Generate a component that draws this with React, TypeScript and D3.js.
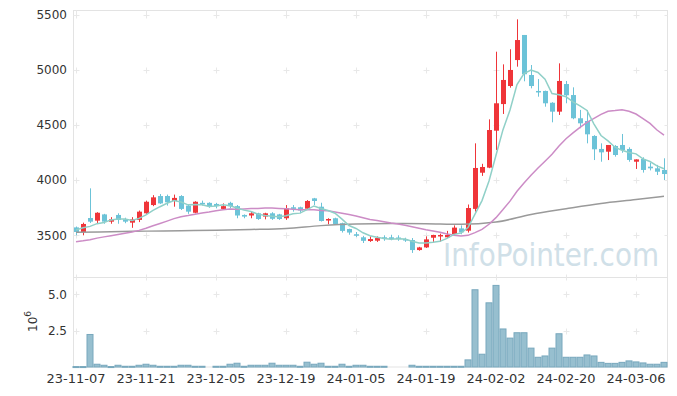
import * as d3 from "d3";

// trading sessions shown on the chart
const dates = [
  "23-11-07", "23-11-08", "23-11-09", "23-11-10", "23-11-13", "23-11-14", "23-11-15", "23-11-16", "23-11-17", "23-11-20",
  "23-11-21", "23-11-22", "23-11-23", "23-11-24", "23-11-27", "23-11-28", "23-11-29", "23-11-30", "23-12-01", "23-12-04",
  "23-12-05", "23-12-06", "23-12-07", "23-12-08", "23-12-11", "23-12-12", "23-12-13", "23-12-14", "23-12-15", "23-12-18",
  "23-12-19", "23-12-20", "23-12-21", "23-12-22", "23-12-26", "23-12-27", "23-12-28", "24-01-02", "24-01-03", "24-01-04",
  "24-01-05", "24-01-08", "24-01-09", "24-01-10", "24-01-11", "24-01-12", "24-01-15", "24-01-16", "24-01-17", "24-01-18",
  "24-01-19", "24-01-22", "24-01-23", "24-01-24", "24-01-25", "24-01-26", "24-01-29", "24-01-30", "24-01-31", "24-02-01",
  "24-02-02", "24-02-05", "24-02-06", "24-02-07", "24-02-08", "24-02-13", "24-02-14", "24-02-15", "24-02-16", "24-02-19",
  "24-02-20", "24-02-21", "24-02-22", "24-02-23", "24-02-26", "24-02-27", "24-02-28", "24-02-29", "24-03-04", "24-03-05",
  "24-03-06", "24-03-07", "24-03-08", "24-03-11", "24-03-12",
];

const opens = [
  3572, 3530, 3657, 3633, 3690, 3624, 3685, 3645, 3615, 3640,
  3700, 3775, 3857, 3857, 3812, 3857, 3770, 3705, 3795, 3795,
  3785, 3740, 3795, 3765, 3685, 3680, 3700, 3670, 3700, 3690,
  3655, 3755, 3755, 3742, 3836, 3760, 3635, 3655, 3610, 3557,
  3510, 3482, 3448, 3451, 3482, 3482, 3480, 3466, 3457, 3366,
  3390, 3478, 3495, 3482, 3512, 3563, 3542, 3740, 4069, 4115,
  4451, 4693, 4857, 5093, 5321, 4957, 4812, 4812, 4705, 4624,
  4875, 4775, 4564, 4539, 4403, 4285, 4260, 4312, 4321, 4285,
  4169, 4194, 4124, 4109, 4094,
];
const highs = [
  3580, 3615, 3927, 3710, 3695, 3665, 3700, 3660, 3665, 3725,
  3815, 3865, 3875, 3870, 3870, 3865, 3775, 3810, 3815, 3800,
  3795, 3790, 3805, 3775, 3690, 3715, 3705, 3705, 3710, 3695,
  3775, 3775, 3760, 3820, 3840, 3796, 3655, 3660, 3615, 3560,
  3530, 3495, 3490, 3490, 3500, 3505, 3500, 3478, 3475, 3395,
  3490, 3505, 3515, 3540, 3590, 3590, 3780, 4336, 4150, 4554,
  5169, 5054, 5191, 5463, 5321, 5048, 4920, 4815, 4710, 5063,
  4903, 4845, 4640, 4639, 4410, 4336, 4321, 4320, 4421, 4300,
  4190, 4209, 4160, 4140, 4200,
];
const lows = [
  3500, 3500, 3612, 3612, 3605, 3605, 3605, 3610, 3568, 3620,
  3695, 3765, 3785, 3770, 3760, 3730, 3695, 3700, 3770, 3750,
  3745, 3735, 3745, 3655, 3655, 3655, 3640, 3645, 3640, 3640,
  3640, 3715, 3700, 3735, 3775, 3625, 3600, 3598, 3525, 3505,
  3485, 3430, 3440, 3440, 3450, 3455, 3450, 3440, 3340, 3360,
  3385, 3433, 3440, 3475, 3500, 3510, 3525, 3715, 4040, 4110,
  4275, 4603, 4842, 5033, 4900, 4836, 4760, 4669, 4527, 4594,
  4700, 4555, 4473, 4336, 4184, 4169, 4184, 4215, 4250, 4169,
  4103, 4070, 4090, 4048, 4003,
];
const closes = [
  3530, 3603, 3624, 3705, 3624, 3645, 3640, 3624, 3645, 3715,
  3805, 3845, 3790, 3800, 3840, 3740, 3715, 3805, 3785, 3765,
  3765, 3765, 3765, 3680, 3670, 3700, 3648, 3700, 3650, 3648,
  3745, 3740, 3725, 3812, 3812, 3630, 3648, 3603, 3540, 3525,
  3496, 3450, 3466, 3475, 3466, 3466, 3468, 3460, 3366, 3390,
  3463, 3503, 3503, 3503, 3570, 3527, 3748, 4112, 4121, 4457,
  4700, 4912, 5003, 5275, 4964, 4857, 4800, 4700, 4624, 4903,
  4773, 4564, 4518, 4418, 4282, 4254, 4321, 4230, 4275, 4185,
  4190, 4094, 4109, 4078, 4057,
];
// volume in millions of shares
const volumes = [
  0.03, 0.03, 2.24, 0.19, 0.12, 0.03, 0.12, 0.05, 0.05, 0.12,
  0.19, 0.12, 0.05, 0.05, 0.05, 0.12, 0.12, 0.05, 0.05, 0,
  0.05, 0.05, 0.19, 0.26, 0.05, 0.12, 0.12, 0.12, 0.26, 0.12,
  0.12, 0.12, 0.05, 0.33, 0.19, 0.26, 0.05, 0.05, 0.19, 0.05,
  0.12, 0.12, 0.05, 0.05, 0.05, 0, 0, 0, 0.12, 0.05,
  0.05, 0.05, 0.05, 0.05, 0.05, 0.05, 0.49, 5.32, 0.88, 4.42,
  5.62, 2.62, 1.99, 2.36, 2.36, 1.3, 0.67, 0.76, 1.3, 2.29,
  0.67, 0.67, 0.67, 0.83, 0.76, 0.32, 0.25, 0.25, 0.32, 0.42,
  0.35, 0.28, 0.19, 0.19, 0.32,
];

// closes of the 19 sessions before 23-11-07 (for the moving averages)
const priorCloses = [
  3440, 3430, 3410, 3400, 3420, 3415, 3405, 3425, 3420, 3425,
  3390, 3380, 3370, 3385, 3385, 3500, 3560, 3580, 3568,
];
// long moving average, read at selected sessions
const longMaIdx = [0, 5, 10, 15, 20, 25, 30, 35, 40, 45, 50, 55, 60, 65, 70, 75, 80, 84];
const longMaVals = [3527, 3533, 3538, 3542, 3547, 3553, 3562, 3588, 3603, 3607, 3605, 3600, 3620, 3690, 3742, 3790, 3825, 3855];

const priceTicks = [3500, 4000, 4500, 5000, 5500];
const volTicks = [2.5, 5.0];
const xTickIdx = [0, 10, 20, 30, 40, 50, 60, 70, 80];

const UP = "#ef3539";
const DOWN = "#6cc3d8";
const GRID = "#e8e8e8";
const FONT = "'DejaVu Sans', sans-serif";

const movingAvg = (n) => {
  const all = [...priorCloses, ...closes];
  const off = priorCloses.length;
  return closes.map((_, i) => {
    const s = all.slice(off + i - n + 1, off + i + 1);
    return d3.mean(s);
  });
};

export default function App() {
  const left = 73.5;
  const right = 667.5;
  const pTop = 10.5;
  const pBottom = 277.5;
  const vTop = 277.5;
  const vBottom = 367;

  const idx = d3.range(closes.length);
  const x = d3.scaleBand().domain(idx).range([72.5, 667.5]).padding(0);
  const cx = (i) => x(i) + x.bandwidth() / 2;
  const y = d3.scaleLinear().domain([3121, 5548]).range([277, 10]);
  const yv = d3.scaleLinear().domain([0, 6.13]).range([vBottom, 278]);

  const ma5 = movingAvg(5);
  const ma20 = movingAvg(20);
  const line = d3.line().x((d) => cx(d[0])).y((d) => y(d[1]));
  const longLine = d3
    .line()
    .x((d) => cx(d[0]))
    .y((d) => y(d[1]))
    .curve(d3.curveMonotoneX);

  const cross = (px, py, key) => (
    <g key={key} stroke={GRID} strokeWidth={1}>
      <line x1={px - 3} x2={px + 3} y1={py} y2={py} />
      <line x1={px} x2={px} y1={py - 3} y2={py + 3} />
    </g>
  );

  const bodyW = 5;

  return (
    <svg
      width={677}
      height={396}
      style={{ position: "absolute", left: 0, top: 0, background: "#fff" }}
      fontFamily={FONT}
    >
      {/* watermark */}
      <text
        x={443}
        y={266}
        fontSize={32}
        fill="#d0e0e8"
        textLength={216}
        lengthAdjust="spacingAndGlyphs"
      >
        InfoPointer.com
      </text>

      {/* panel frames */}
      <rect x={left} y={pTop} width={right - left} height={pBottom - pTop} fill="none" stroke="#e3e3e3" />
      <rect x={left} y={vTop} width={right - left} height={vBottom - vTop} fill="none" stroke="#e3e3e3" />

      {/* grid crosses */}
      {xTickIdx.map((i) =>
        priceTicks.map((t) => cross(Math.round(cx(i)) + 0.5, Math.round(y(t)) + 0.5, `p${i}-${t}`))
      )}
      {xTickIdx.map((i) =>
        volTicks.map((t) => cross(Math.round(cx(i)) + 0.5, Math.round(yv(t)) + 0.5, `v${i}-${t}`))
      )}
      {xTickIdx.map((i) => (
        <g key={`et${i}`} stroke={GRID}>
          <line x1={Math.round(cx(i)) + 0.5} x2={Math.round(cx(i)) + 0.5} y1={pTop} y2={pTop + 3} />
          <line x1={Math.round(cx(i)) + 0.5} x2={Math.round(cx(i)) + 0.5} y1={pBottom - 3} y2={pBottom} />
          <line x1={Math.round(cx(i)) + 0.5} x2={Math.round(cx(i)) + 0.5} y1={vTop} y2={vTop + 3} />
        </g>
      ))}
      {priceTicks.map((t) => (
        <line key={`rt${t}`} x1={right - 3} x2={right} y1={Math.round(y(t)) + 0.5} y2={Math.round(y(t)) + 0.5} stroke={GRID} />
      ))}

      {/* candles */}
      {idx.map((i) => {
        const up = closes[i] >= opens[i];
        const col = up ? UP : DOWN;
        const c = Math.round(cx(i)) + 0.5;
        const top = y(Math.max(opens[i], closes[i]));
        const bot = y(Math.min(opens[i], closes[i]));
        return (
          <g key={`c${i}`}>
            <line x1={c} x2={c} y1={y(highs[i])} y2={y(lows[i])} stroke={col} strokeWidth={1} />
            <rect x={c - bodyW / 2} y={top} width={bodyW} height={Math.max(1.5, bot - top)} fill={col} />
          </g>
        );
      })}

      {/* moving averages */}
      <path
        d={longLine(longMaIdx.map((k, j) => [k, longMaVals[j]]))}
        fill="none"
        stroke="#9a9a9a"
        strokeWidth={1.5}
      />
      <path d={line(ma20.map((v, i) => [i, v]))} fill="none" stroke="#cc8cc6" strokeWidth={1.5} />
      <path d={line(ma5.map((v, i) => [i, v]))} fill="none" stroke="#90d0c8" strokeWidth={1.5} />

      {/* volume bars */}
      {idx.map((i) =>
        volumes[i] > 0 ? (
          <rect
            key={`v${i}`}
            x={x(i) + 0.5}
            y={yv(volumes[i])}
            width={x.bandwidth() - 1}
            height={Math.max(1, vBottom - yv(volumes[i]))}
            fill="#97bfcf"
            stroke="#78a8bd"
            strokeWidth={1}
          />
        ) : null
      )}

      {/* price axis labels */}
      {priceTicks.map((t) => (
        <text key={`pl${t}`} x={67} y={y(t)} dy="0.35em" textAnchor="end" fontSize={12} fill="#333">
          {t}
        </text>
      ))}
      {/* volume axis labels */}
      {volTicks.map((t) => (
        <text key={`vl${t}`} x={67} y={yv(t)} dy="0.35em" textAnchor="end" fontSize={12} fill="#333">
          {d3.format(".1f")(t)}
        </text>
      ))}
      <text transform="translate(37,332) rotate(-90)" fontSize={12} fill="#333">
        10
        <tspan fontSize={9} dy={-6}>
          6
        </tspan>
      </text>

      {/* date labels */}
      {xTickIdx.map((i) => (
        <text
          key={`xl${i}`}
          x={cx(i)}
          y={383}
          textAnchor="middle"
          fontSize={13}
          fill="#333"
        >
          {dates[i]}
        </text>
      ))}
    </svg>
  );
}
